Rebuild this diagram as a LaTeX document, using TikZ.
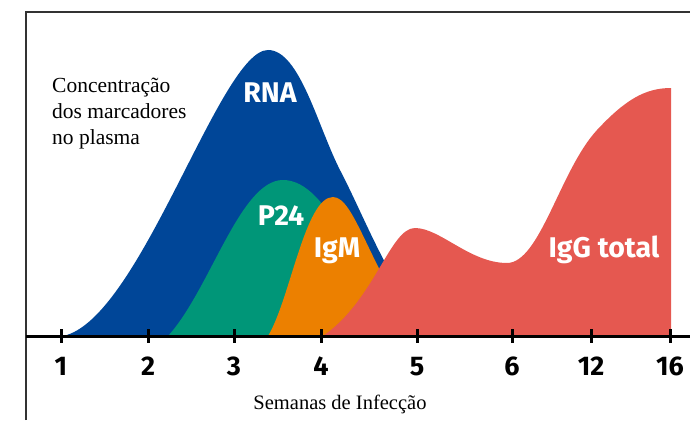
\documentclass[tikz,border=0pt]{standalone}
\usepackage{fontspec}
\setmainfont{Liberation Serif}
\newfontfamily\markerfont{Fira Sans}
\usetikzlibrary{positioning}
\definecolor{rnablue}{RGB}{0,70,152}
\definecolor{pteal}{RGB}{0,150,120}
\definecolor{igmorange}{RGB}{236,128,0}
\definecolor{iggred}{RGB}{229,88,80}
\definecolor{framegray}{RGB}{50,50,50}

\begin{document}
\begin{tikzpicture}[x=1pt,y=-1pt,
        curvelabel/.style={text=white, inner sep=0pt, anchor=base,
            font=\markerfont\bfseries\fontsize{28.5}{32}\selectfont},
        weeklabel/.style={inner sep=0pt, anchor=base,
            font=\markerfont\bfseries\fontsize{27}{30}\selectfont},
        weektick/.style={line width=3pt},
        serifnote/.style={inner sep=0pt, align=left,
            font=\fontsize{21.5}{26}\selectfont}]
    \useasboundingbox (0,0) rectangle (690,420);

    % curves
    \fill[rnablue] (63,336) .. controls (140,320) and (220,50) .. (268,50)
        .. controls (300,50) and (318,128) .. (341,172)
        .. controls (368,224) and (395,300) .. (440,336) -- cycle;
    \fill[pteal] (168,336) .. controls (210,290) and (240,180) .. (283,180)
        .. controls (330,180) and (360,280) .. (400,336) -- cycle;
    \fill[igmorange] (268,336) .. controls (290,300) and (305,197) .. (333,197)
        .. controls (355,197) and (370,270) .. (420,336) -- cycle;
    \fill[iggred] (323,336) .. controls (375,300) and (390,228) .. (415,228)
        .. controls (440,228) and (470,263) .. (507,263)
        .. controls (540,263) and (560,170) .. (597,130)
        .. controls (625,100) and (645,88) .. (671,88)
        -- (671,336) -- cycle;

    % frame and axis
    \draw[framegray, line width=1.3pt] (26,420) -- (26,12) -- (690,12);
    \draw[line width=3pt] (26,336) -- (690,336);
    \foreach \x/\w in {61/1,148/2,234/3,321/4,417/5,512/6,591/12,670/16} {
        \draw[weektick] (\x,329) -- (\x,343);
        \node[weeklabel] (week\w) at (\x,375) {\w};
    }

    \node[curvelabel] (rna) at (270,102) {RNA};
    \node[curvelabel] (p24) at (281,225) {P24};
    \node[curvelabel] (igm) at (337,257) {IgM};
    \node[curvelabel] (igg) at (604,257) {IgG total};

    \node[serifnote, anchor=north west] (conc) at (52,78)
        {Concentração\\dos marcadores\\no plasma};
    \node[inner sep=0pt, anchor=base, font=\fontsize{20.5}{24}\selectfont]
        (xaxis) at (340,409) {Semanas de Infecção};
\end{tikzpicture}
\end{document}
